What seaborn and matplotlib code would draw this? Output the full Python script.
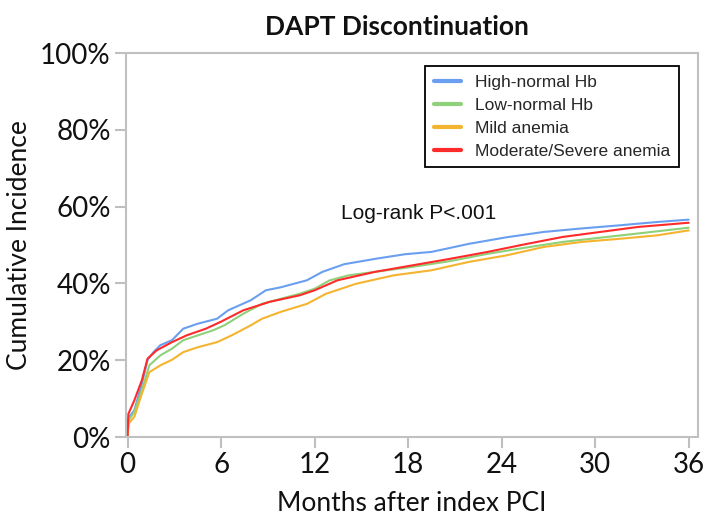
import matplotlib
matplotlib.use("Agg")
import matplotlib.pyplot as plt
import seaborn as sns
import pandas as pd
from matplotlib.ticker import FuncFormatter

# ---- data ----
high_months = [0, 0.05, 0.43, 0.92, 1.28, 1.64, 2.1, 2.85, 3.57, 4.5, 5.74, 6.46, 7.9, 8.87, 9.84,
               11.5, 12.5, 13.9, 15.9, 17.8, 19.5, 21.9, 24.3, 26.7, 29.1, 31.5, 34.0, 36.0]
high_vals = [0, 5, 6.9, 13.9, 20, 22, 23.9, 25.2, 28.2, 29.5, 30.8, 33, 35.6, 38.2, 39,
             40.8, 43, 45, 46.4, 47.6, 48.2, 50.3, 52, 53.4, 54.3, 55.1, 56, 56.6]

low_months = [0, 0.07, 0.43, 0.92, 1.4, 2.12, 2.85, 3.57, 4.53, 5.5, 6.22, 7.43, 8.63, 9.84, 11.04,
              12.0, 12.97, 14.18, 15.87, 18.28, 20.69, 23.1, 25.51, 27.92, 30.33, 32.75, 36.0]
low_vals = [0, 4.3, 6.5, 12.2, 18.7, 21.3, 23, 25.2, 26.5, 27.8, 29.1, 32.1, 34.7, 36, 37.3,
            38.6, 40.8, 42.1, 43, 44.3, 45.8, 47.7, 49.3, 50.8, 51.9, 53, 54.5]

mild_months = [0, 0.07, 0.43, 0.92, 1.4, 2.12, 2.85, 3.57, 4.53, 5.74, 6.7, 7.91, 8.63, 9.84, 11.53,
               12.73, 14.66, 17.07, 19.48, 21.9, 24.31, 26.72, 29.13, 31.54, 33.95, 36.0]
mild_vals = [0, 3.5, 5.2, 11.3, 16.9, 18.7, 20.1, 22.1, 23.4, 24.7, 26.5, 29.1, 30.8, 32.6, 34.7,
             37.3, 39.9, 42.1, 43.4, 45.6, 47.3, 49.5, 50.8, 51.6, 52.5, 53.8]

mod_months = [0, 0.05, 0.43, 0.92, 1.28, 1.88, 2.85, 3.81, 5.02, 5.98, 7.43, 9.12, 11.04, 12.0,
              13.46, 15.87, 18.28, 20.69, 23.1, 25.51, 27.92, 30.33, 32.75, 36.0]
mod_vals = [0, 6, 9.5, 14.8, 20.4, 22.6, 24.7, 26.5, 28.2, 30, 33, 35.2, 36.9, 38.2,
            40.8, 43, 44.7, 46.4, 48.2, 50.2, 52.1, 53.4, 54.7, 55.8]

groups = ["High-normal Hb", "Low-normal Hb", "Mild anemia", "Moderate/Severe anemia"]
colors = ["#6a9ff0", "#8fd17a", "#f5b430", "#ff2a2a"]
x_ticks = [0, 6, 12, 18, 24, 30, 36]
y_ticks = [0, 20, 40, 60, 80, 100]

frames = []
for g, m, v in zip(groups, [high_months, low_months, mild_months, mod_months],
                   [high_vals, low_vals, mild_vals, mod_vals]):
    frames.append(pd.DataFrame({"month": m, "inc": v, "group": g}))
df = pd.concat(frames, ignore_index=True)

sns.set_style("white")
plt.rcParams["font.family"] = ["Lato", "DejaVu Sans"]

fig = plt.figure(figsize=(7.13, 5.2), dpi=100)
ax = fig.add_axes([126 / 713, 1 - 437 / 520, 572 / 713, 384 / 520])

sns.lineplot(data=df, x="month", y="inc", hue="group", hue_order=groups,
             palette=dict(zip(groups, colors)), estimator=None, sort=False,
             linewidth=1.5, ax=ax)

ax.set_xlim(-0.1, 36.6)
ax.set_ylim(0, 100)
ax.set_xticks(x_ticks)
ax.set_yticks(y_ticks)
ax.yaxis.set_major_formatter(FuncFormatter(lambda v, p: f"{int(v)}%"))
ax.tick_params(axis="both", direction="out", length=8, width=1.5, color="#bfbfbf",
               labelsize=20, labelcolor="#111111", pad=3, bottom=True, left=True)
for s in ax.spines.values():
    s.set_color("#c0c0c0")
    s.set_linewidth(1.5)

ax.set_xlabel("Months after index PCI", fontsize=19, labelpad=9, color="#111111")
ax.set_ylabel("Cumulative Incidence", fontsize=19, labelpad=6, color="#111111")
fig.text(397 / 713, 1 - 27 / 520, "DAPT Discontinuation", fontsize=19, fontweight="bold",
         ha="center", va="center", color="#111111")

ax.text(18.7, 58.3, "Log-rank P<.001", fontsize=15, ha="center", va="center",
        family=["Liberation Sans", "DejaVu Sans"], color="#111111")

leg = ax.legend(loc="upper right", bbox_to_anchor=(0.967, 0.966), borderaxespad=0,
                frameon=True, fancybox=False, edgecolor="black", framealpha=1,
                prop={"family": ["Liberation Sans"], "size": 12.5},
                handlelength=1.6, handletextpad=0.8, labelspacing=0.45, borderpad=0.5)
leg.get_frame().set_linewidth(1.3)
for line in leg.get_lines():
    line.set_linewidth(3)

fig.savefig("out.png", dpi=100)
